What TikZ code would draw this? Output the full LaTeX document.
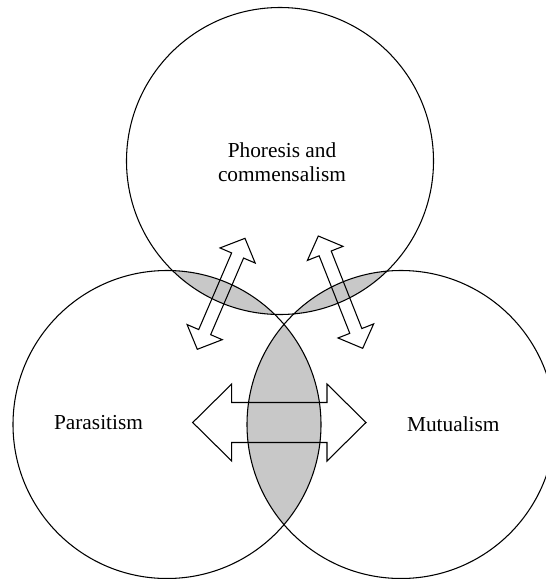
\documentclass[tikz,border=0pt]{standalone}
\usepackage{fontspec}
\setmainfont{Liberation Serif}
\definecolor{lensgray}{RGB}{200,200,200}
\begin{document}
\begin{tikzpicture}[x=0.75pt,y=-0.75pt,
  circ/.style={draw=black,line width=0.8pt},
  lens/.style={fill=lensgray},
  arrowline/.style={draw=black,line width=0.8pt,line join=miter},
  lbl/.style={font=\fontsize{16}{18}\selectfont,anchor=base,inner sep=0pt},
  pics/dblarr/.style n args={4}{code={
    \draw[arrowline] (0,0) -- (#2,{#3/2}) -- (#2,{#4/2}) -- ({#1-#2},{#4/2}) -- ({#1-#2},{#3/2}) -- (#1,0)
      -- ({#1-#2},{-#3/2}) -- ({#1-#2},{-#4/2}) -- (#2,{-#4/2}) -- (#2,{-#3/2}) -- cycle;
  }}
]
\clip (0,0) rectangle (546,579);
\fill[white] (0,0) rectangle (546,579);
\coordinate (ctop) at (280,161);
\coordinate (cleft) at (167,424.5);
\coordinate (cright) at (401,424.5);
% shaded overlaps
\begin{scope}
  \clip (ctop) circle[radius=153.5];
  \fill[lens] (cleft) circle[radius=154];
  \fill[lens] (cright) circle[radius=154];
\end{scope}
\begin{scope}
  \clip (cleft) circle[radius=154];
  \fill[lens] (cright) circle[radius=154];
\end{scope}
% circles
\draw[circ] (ctop) circle[radius=153.5];
\draw[circ] (cleft) circle[radius=154];
\draw[circ] (cright) circle[radius=154];
% double arrows
\pic[rotate=66.75] at (197.3,349.3) {dblarr={120.8}{18.7}{38.3}{13}};
\pic[rotate=-68.43] at (318.3,236) {dblarr={120.8}{18.7}{38.3}{13}};
\pic at (192.7,422.5) {dblarr={173.3}{39}{77}{40}};
% labels
\node[lbl] (phor1) at (282,157) {Phoresis and};
\node[lbl] (phor2) at (282,181) {commensalism};
\node[lbl] (para) at (98.5,429.5) {Parasitism};
\node[lbl] (mutu) at (453.3,431.5) {Mutualism};
\end{tikzpicture}
\end{document}
